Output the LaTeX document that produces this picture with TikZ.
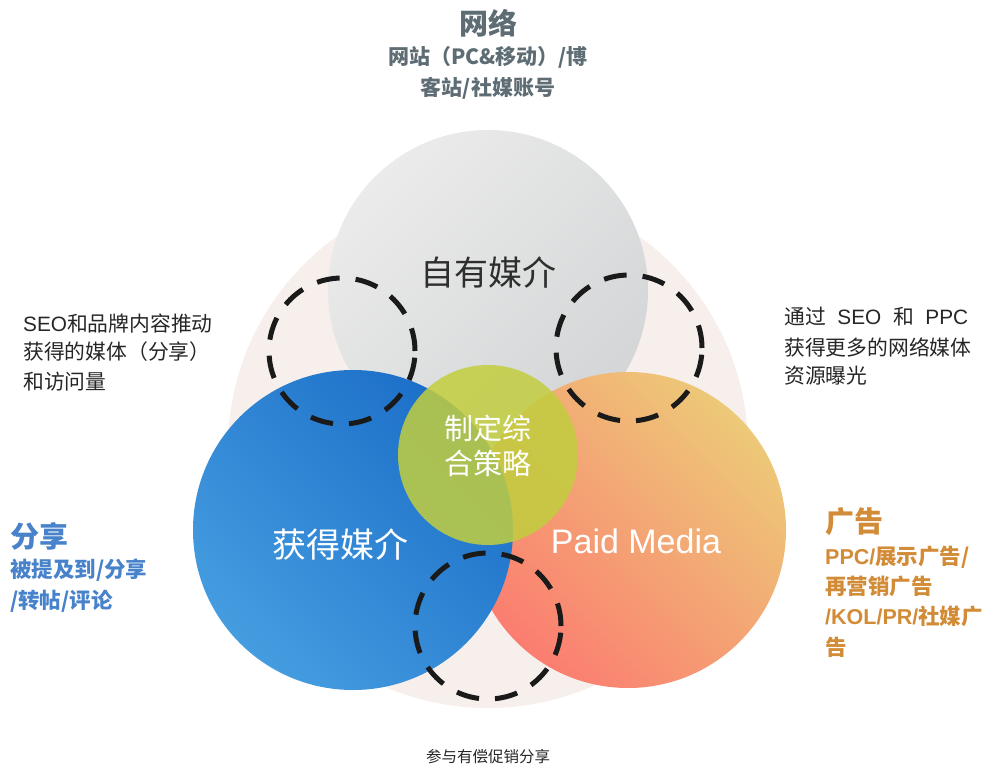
\documentclass[tikz,border=0pt]{standalone}
\usepackage{fontspec}
\setmainfont{Noto Sans CJK SC}
\newfontfamily\lat{Liberation Sans}
\definecolor{palec}{HTML}{F7EFEB}
\definecolor{grayA}{HTML}{EBEBEB}
\definecolor{grayB}{HTML}{D3D5D6}
\definecolor{blA}{HTML}{1C6FC8}
\definecolor{blB}{HTML}{459DE0}
\definecolor{orA}{HTML}{EDC978}
\definecolor{orB}{HTML}{FB7D70}
\definecolor{greenc}{HTML}{C2CE3E}
\definecolor{ringc}{HTML}{1A1A1A}
\definecolor{topc}{HTML}{5E6C74}
\definecolor{bodyc}{HTML}{262626}
\definecolor{bluec}{HTML}{4782CA}
\definecolor{orangec}{HTML}{D28B36}
\definecolor{darkc}{HTML}{2E2E2E}
\begin{document}
\begin{tikzpicture}[x=1pt,y=-1pt,
  disc/.style={circle, inner sep=0pt, minimum size=#1},
  dashring/.style={circle, inner sep=0pt, minimum size=146pt, draw=ringc, line width=5pt, dash pattern=on 23pt off 16pt},
  title/.style={font=\bfseries\fontsize{29}{34}\selectfont, inner sep=0pt},
  sub/.style={font=\bfseries\fontsize{21}{26}\selectfont, inner sep=0pt},
  sidesub/.style={font=\bfseries\fontsize{21.5}{26}\selectfont, inner sep=0pt},
  body/.style={font=\fontsize{20.8}{24}\selectfont, text=bodyc, inner sep=0pt},
  big/.style={font=\fontsize{34}{40}\selectfont, inner sep=0pt},
  mid/.style={font=\fontsize{29}{34}\selectfont, inner sep=0pt, text=white}]
\useasboundingbox (0,0) rectangle (985,765);
% circles
\node[disc=520pt, fill=palec] (base) at (488,448) {};
\node[disc=320pt, top color=grayA, bottom color=grayB, shading angle=45] (owned) at (488,290) {};
\node[disc=316pt, top color=orA, bottom color=orB, shading angle=-45] (paid) at (628,530) {};
\node[disc=320pt, top color=blA, bottom color=blB, shading angle=-45] (earned) at (353,530) {};
\node[disc=180pt, fill=greenc, fill opacity=0.85] (core) at (488,455) {};
% dashed rings
\node[dashring] (ringL) at (342,351) {};
\node[dashring] (ringR) at (629,348) {};
\node[dashring] (ringB) at (488,626) {};
% circle labels
\node[big, text=darkc] (ownedT) at (488,272) {自有媒介};
\node[big, text=white] (earnedT) at (340,544) {获得媒介};
\node[big, text=white, font=\lat\fontsize{34}{40}\selectfont] (paidT) at (636,541) {Paid Media};
\node[mid] (coreA) at (488,428) {制定综};
\node[mid] (coreB) at (488,463) {合策略};
% top
\node[title, text=topc] (t1) at (488,23) {网络};
\node[sub, text=topc] (t2) at (488,57) {网站（PC\&移动）/博};
\node[sub, text=topc] (t3) at (488,88) {客站/社媒账号};
% left
\node[body, anchor=west] (l1) at (23,324) {{\lat SEO}和品牌内容推动};
\node[body, anchor=west] (l2) at (23,352) {获得的媒体（分享）};
\node[body, anchor=west] (l3) at (23,382) {和访问量};
% right
\node[body, anchor=west] (r1) at (784,317) {\makebox[184pt][s]{通过\hfil{\lat SEO}\hfil 和\hfil{\lat PPC}}};
\node[body, anchor=west] (r2) at (784,347) {获得更多的网络媒体};
\node[body, anchor=west] (r3) at (784,376) {资源曝光};
% blue
\node[title, text=bluec, anchor=west] (b1) at (10,536) {分享};
\node[sidesub, text=bluec, anchor=west] (b2) at (10,570) {被提及到/分享};
\node[sidesub, text=bluec, anchor=west] (b3) at (10,601) {/转帖/评论};
% orange
\node[title, text=orangec, anchor=west] (o1) at (825,522) {广告};
\node[sidesub, text=orangec, anchor=west] (o2) at (825,557) {{\lat PPC/}展示广告/};
\node[sidesub, text=orangec, anchor=west] (o3) at (825,586) {再营销广告};
\node[sidesub, text=orangec, anchor=west] (o4) at (825,616) {{\lat /KOL/PR/}社媒广};
\node[sidesub, text=orangec, anchor=west] (o5) at (825,647) {告};
% bottom
\node[font=\fontsize{15.5}{18}\selectfont, text=bodyc, inner sep=0pt] (bot) at (488,757) {参与有偿促销分享};
\end{tikzpicture}
\end{document}
